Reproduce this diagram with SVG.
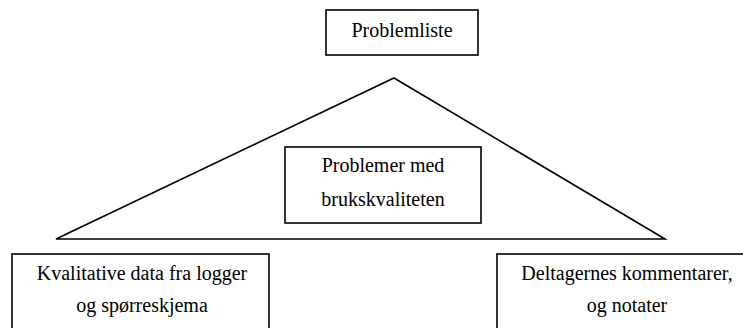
<svg xmlns="http://www.w3.org/2000/svg" width="743" height="328" viewBox="0 0 743 328">
<style>
.box{fill:#fff;stroke:#000;stroke-width:1.6}
.t{font-family:"Liberation Serif","Times New Roman",serif;font-size:20px;fill:#000;text-anchor:middle}
.line{fill:none;stroke:#000;stroke-width:1.6}
</style>
<rect width="743" height="328" fill="#fff"/>
<g id="connectors">
<polygon class="line" points="56,239 394,78 665,239"/>
</g>
<g id="problemliste">
<rect class="box" x="326" y="10" width="152" height="45"/>
<text class="t" x="402" y="37">Problemliste</text>
</g>
<g id="problemer">
<rect class="box" x="285" y="147" width="196" height="76"/>
<text class="t" x="383" y="172">Problemer med</text>
<text class="t" x="383" y="206">brukskvaliteten</text>
</g>
<g id="kvalitative">
<rect class="box" x="12" y="254" width="257" height="90"/>
<text class="t" x="142" y="280">Kvalitative data fra logger</text>
<text class="t" x="142" y="312">og spørreskjema</text>
</g>
<g id="deltagernes">
<rect class="box" x="497" y="254" width="258" height="90"/>
<text class="t" x="627" y="280">Deltagernes kommentarer,</text>
<text class="t" x="627" y="312">og notater</text>
</g>
</svg>
